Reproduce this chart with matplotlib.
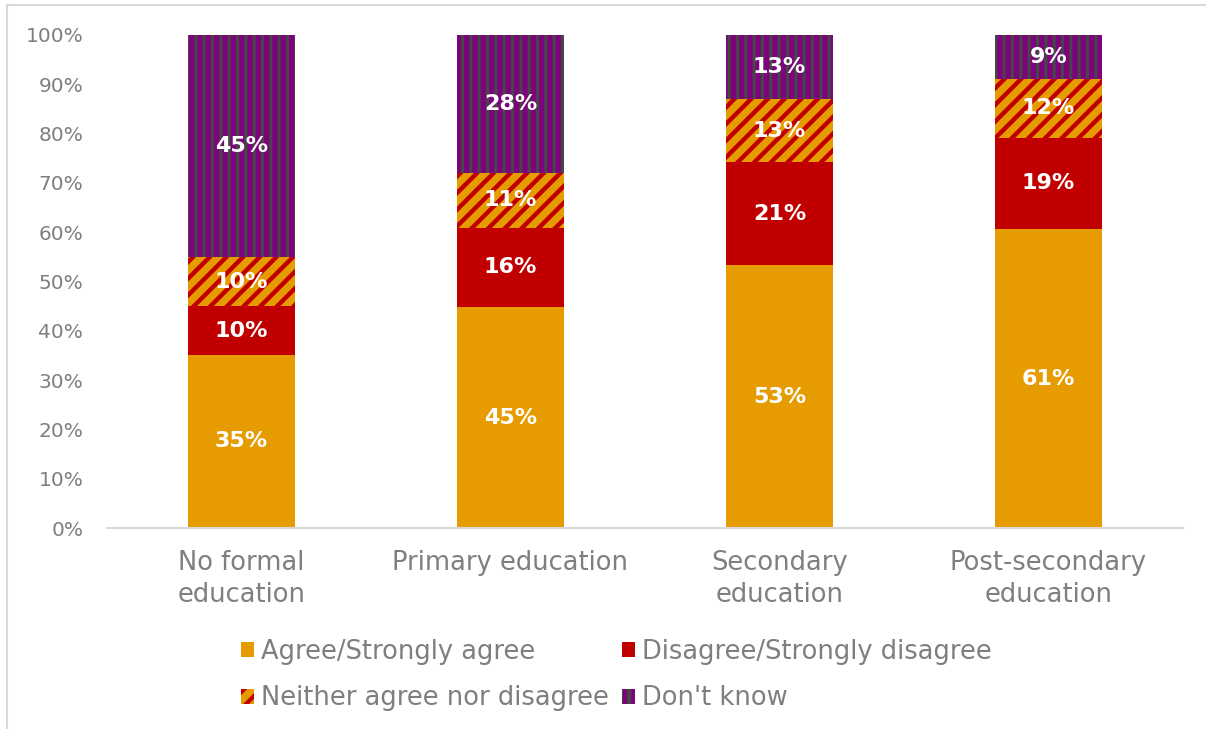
import matplotlib
matplotlib.use("Agg")
import matplotlib.pyplot as plt
import numpy as np
from matplotlib.lines import Line2D

# categories and stacked shares (%)
categories = ["No formal\neducation", "Primary education", "Secondary\neducation", "Post-secondary\neducation"]
agree = [35.1, 44.8, 53.3, 60.6]
disagree = [9.9, 16.1, 20.9, 18.6]
neither = [10.0, 11.1, 12.8, 11.8]
dont_know = [45.0, 28.0, 13.0, 9.0]

series_names = ["Agree/Strongly agree", "Disagree/Strongly disagree",
                "Neither agree nor disagree", "Don't know"]

plt.rcParams['font.family'] = ['DejaVu Sans']
plt.rcParams['hatch.linewidth'] = 3.0

text_grey = "#7f7f7f"
c_orange = "#e69c00"
c_red = "#c00000"
c_purple = "#800080"
c_dark = "#464646"

fig = plt.figure(figsize=(12.06, 7.29), dpi=100)
ax = fig.add_axes([0.0887, 0.2757, 0.8922, 0.6763])

x = np.arange(len(categories))
w = 0.4
bottom = np.zeros(len(categories))

styles = [
    dict(color=c_orange, hatch=None, hcol=None, hlw=None),
    dict(color=c_red, hatch=None, hcol=None, hlw=None),
    dict(color=c_orange, hatch="//", hcol=c_red, hlw=3.2),
    dict(color=c_purple, hatch="||", hcol=c_dark, hlw=2.3),
]
handles = []
for vals, st, name in zip([agree, disagree, neither, dont_know], styles, series_names):
    vals = np.array(vals)
    if st["hatch"]:
        bars = ax.bar(x, vals, w, bottom=bottom, facecolor=st["color"],
                      edgecolor=st["hcol"], hatch=st["hatch"], linewidth=0)
        for p in bars:
            if hasattr(p, "set_hatch_linewidth"):
                p.set_hatch_linewidth(st["hlw"])
    else:
        bars = ax.bar(x, vals, w, bottom=bottom, color=st["color"], linewidth=0)
    for xi, b, v in zip(x, bottom, vals):
        ax.text(xi, b + v / 2, f"{v:.0f}%", ha="center", va="center",
                color="white", fontsize=16, fontweight="bold")
    handles.append(bars)
    bottom = bottom + vals

ax.set_xlim(-0.5, 3.5)
ax.set_ylim(0, 100)
ax.set_yticks(np.arange(0, 101, 10))
ax.set_yticklabels([f"{v}%" for v in range(0, 101, 10)])
ax.set_xticks(x)
ax.set_xticklabels(categories, fontsize=18.5, color=text_grey, linespacing=1.3)
ax.tick_params(axis="y", length=0, pad=17, labelsize=14.5, labelcolor=text_grey)
ax.tick_params(axis="x", length=0, pad=16)
for s in ["top", "right", "left"]:
    ax.spines[s].set_visible(False)
ax.spines["bottom"].set_color("#d9d9d9")
ax.spines["bottom"].set_linewidth(1.5)

order = [0, 2, 1, 3]
leg = fig.legend([handles[i] for i in order], [series_names[i] for i in order],
                 ncol=2, loc="center", bbox_to_anchor=(0.511, 0.074),
                 frameon=False, fontsize=18.5, labelcolor=text_grey,
                 handlelength=0.5, handleheight=0.5, handletextpad=0.28,
                 columnspacing=0.5, labelspacing=0.8)

# light frame at left and top of the picture
fig.add_artist(Line2D([0.006, 0.006], [0, 0.993], color="#d9d9d9", lw=1.5))
fig.add_artist(Line2D([0.006, 1.0], [0.993, 0.993], color="#d9d9d9", lw=1.5))

fig.savefig("out.png", dpi=100)
